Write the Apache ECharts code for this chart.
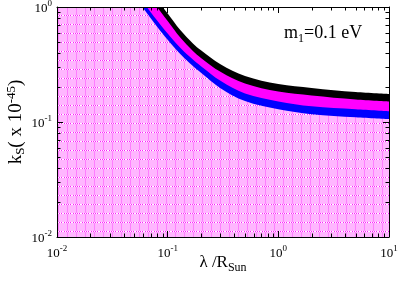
<!DOCTYPE html>
<html><head><meta charset="utf-8">
<script src="https://cdn.jsdelivr.net/npm/echarts@6/dist/echarts.min.js"></script>
<style>html,body{margin:0;padding:0;background:#fff}#c{width:399px;height:281px}</style>
</head><body><div id="c"></div>
<script>
var lambda = [0.01, 0.03, 0.06, 0.07, 0.08, 0.1, 0.13, 0.17, 0.2, 0.3, 0.5, 1, 2, 5, 10];
var blackUpper = [30, 4.1, 1.66, 1.37, 1.16, 0.877, 0.63, 0.48, 0.42, 0.318, 0.251, 0.214, 0.198, 0.182, 0.175];
var blackLower = [30, 3.5, 1.43, 1.18, 1.0, 0.754, 0.542, 0.413, 0.361, 0.273, 0.216, 0.184, 0.170, 0.157, 0.151];
var blueUpper  = [30, 2.7, 1.107, 0.906, 0.766, 0.587, 0.442, 0.347, 0.306, 0.228, 0.177, 0.151, 0.137, 0.129, 0.124];
var blueLower  = [30, 2.4, 0.98, 0.802, 0.678, 0.519, 0.391, 0.305, 0.268, 0.197, 0.152, 0.129, 0.117, 0.110, 0.106];
var xMinorTicks = [0.02,0.03,0.04,0.05,0.06,0.07,0.08,0.09,0.2,0.3,0.4,0.5,0.6,0.7,0.8,0.9,2,3,4,5,6,7,8,9];
var yMinorTicks = [0.02,0.03,0.04,0.05,0.06,0.07,0.08,0.09,0.2,0.3,0.4,0.5,0.6,0.7,0.8,0.9];

function pairs(ys){ return lambda.map(function(x,i){ return [x, ys[i]]; }); }

var pat = document.createElement('canvas');
pat.width = 9; pat.height = 9;
var g = pat.getContext('2d');
g.fillStyle = '#ffb6ff'; g.fillRect(0,0,9,9);
g.fillStyle = '#ff7dff'; g.fillRect(4,0,1,9);
for (var i=0;i<9;i++){ g.fillStyle = (i%2===0)?'#ffffff':'#ff1aff'; g.fillRect(i,6,1,1); }

var F = 'Liberation Serif, Times New Roman, serif';
function expLabel(v){ var e = Math.round(Math.log10(v)); return '{b|10}{s|' + e + '}'; }
var labRich = { b:{fontFamily:F,fontSize:13,color:'#000',lineHeight:16,verticalAlign:'bottom'}, s:{fontFamily:F,fontSize:9,color:'#000',lineHeight:9,verticalAlign:'top'} };

function mkLine(data, color, z){
  return { type:'line', data: pairs(data), smooth:0.35, symbol:'none', z:z,
    lineStyle:{width:0, color:color}, areaStyle:{color:color, opacity:1, origin:'start'} };
}
function tickAxis(pos, isX){
  var a = { type:'log', logBase:10, min:0.01, max:isX?10:1, z:10, nameMoveOverlap:false,
    axisLine:{lineStyle:{color:'#000',width:1}},
    axisTick:{inside:true,length:6,lineStyle:{color:'#000'}},
    minorTick:{show:false},
    splitLine:{show:false} };
  if (pos) { a.position = pos; a.axisLabel = {show:false}; }
  return a;
}
function seg(x1,y1,x2,y2){ return {type:'line', shape:{x1:x1,y1:y1,x2:x2,y2:y2}, style:{stroke:'#000',lineWidth:1}}; }

var xMain = tickAxis(null, true);
xMain.axisLabel = {formatter:expLabel, rich:labRich, margin:7};
xMain.name = '{n|λ /R}{sub|Sun}'; xMain.nameLocation = 'middle'; xMain.nameGap = 17;
xMain.nameTextStyle = { rich:{ n:{fontFamily:F,fontSize:17,color:'#000',lineHeight:20,verticalAlign:'top'}, sub:{fontFamily:F,fontSize:12,color:'#000',lineHeight:12,verticalAlign:'bottom'} } };
var yMain = tickAxis(null, false);
yMain.axisLabel = {formatter:expLabel, rich:labRich, margin:5};
yMain.name = '{n|k}{sub|S}{n|( x 10}{sup|-45}{n|)}'; yMain.nameLocation = 'middle'; yMain.nameGap = 30;
yMain.nameTextStyle = { rich:{ n:{fontFamily:F,fontSize:19,color:'#000',lineHeight:22}, sub:{fontFamily:F,fontSize:13,color:'#000',lineHeight:13,verticalAlign:'bottom'}, sup:{fontFamily:F,fontSize:13,color:'#000',lineHeight:13,verticalAlign:'top'} } };

var chart = echarts.init(document.getElementById('c'));
chart.setOption({
  animation:false,
  grid:{left:57, top:7, right:10, bottom:44, containLabel:false, outerBoundsMode:'none'},
  title:{ text:'{n|m}{sub|1}{n|=0.1 eV}', left:279, top:19,
    textStyle:{ fontWeight:'normal', rich:{ n:{fontFamily:F,fontSize:18,fontWeight:'normal',color:'#000',lineHeight:21,verticalAlign:'top'}, sub:{fontFamily:F,fontSize:12,fontWeight:'normal',color:'#000',lineHeight:12,verticalAlign:'bottom'} } } },
  xAxis:[xMain, tickAxis('top', true)],
  yAxis:[yMain, tickAxis('right', false)],
  series:[
    mkLine(blackUpper, '#000000', 1),
    mkLine(blackLower, '#ff00ff', 2),
    mkLine(blueUpper, '#0000ff', 3),
    { type:'line', data: pairs(blueLower), smooth:0.35, symbol:'none', z:4,
      lineStyle:{width:0}, areaStyle:{color:{image:pat, repeat:'repeat'}, opacity:1, origin:'start'} },
    { type:'custom', z:20, clip:false, silent:true, data: xMinorTicks.map(function(v){ return [v, 0.1]; }),
      encode:{x:0, y:1},
      renderItem:function(p, api){
        var b = api.coord([api.value(0), 0.01]), t = api.coord([api.value(0), 1]);
        var x = Math.round(b[0]) + 0.5;
        return {type:'group', children:[seg(x, b[1], x, b[1]-3.5), seg(x, t[1], x, t[1]+3.5)]};
      } },
    { type:'custom', z:20, clip:false, silent:true, data: yMinorTicks.map(function(v){ return [0.1, v]; }),
      encode:{x:0, y:1},
      renderItem:function(p, api){
        var l = api.coord([0.01, api.value(1)]), r = api.coord([10, api.value(1)]);
        var y = Math.round(l[1]) + 0.5;
        return {type:'group', children:[seg(l[0], y, l[0]+3.5, y), seg(r[0], y, r[0]-3.5, y)]};
      } }
  ]
});
</script></body></html>
